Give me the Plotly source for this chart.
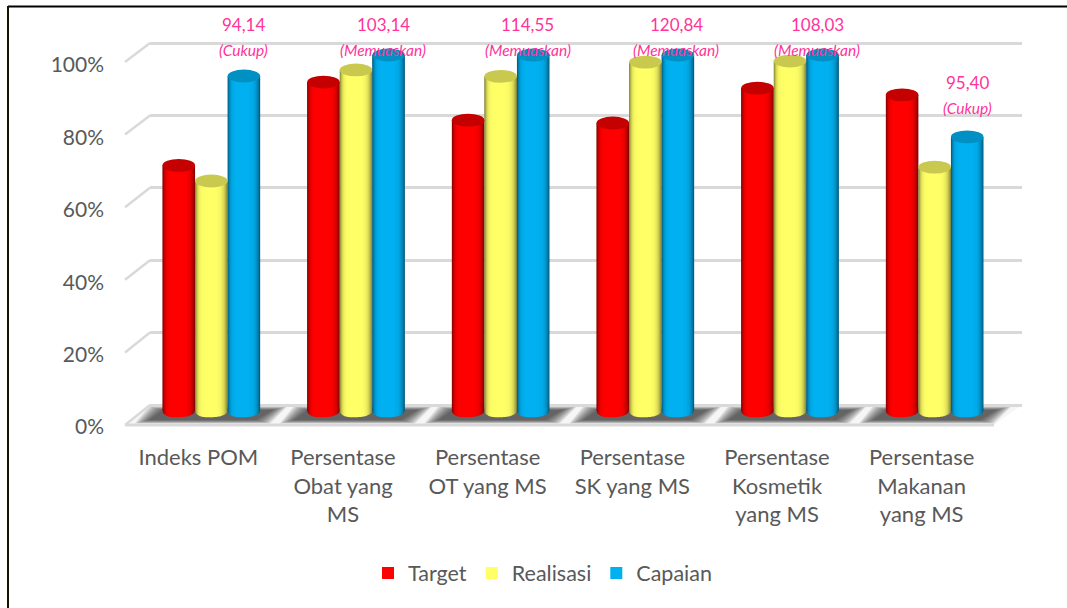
import plotly.graph_objects as go

categories = ["Indeks POM", "Persentase<br>Obat yang<br>MS", "Persentase<br>OT yang MS", "Persentase<br>SK yang MS",
              "Persentase<br>Kosmetik<br>yang MS", "Persentase<br>Makanan<br>yang MS"]
target = [69, 92.4, 81.7, 80.9, 90.7, 88.8]
realisasi = [64.6, 95.8, 94, 98, 98.3, 68.5]
capaian = [94.1, 100, 100, 100, 100, 77]
score_values = ["94,14", "103,14", "114,55", "120,84", "108,03", "95,40"]
score_labels = ["(Cukup)", "(Memuaskan)", "(Memuaskan)", "(Memuaskan)", "(Memuaskan)", "(Cukup)"]
y_ticks = [0, 20, 40, 60, 80, 100]
y_ticktext = ["0%", "20%", "40%", "60%", "80%", "100%"]

series_names = ["Target", "Realisasi", "Capaian"]
series_values = [target, realisasi, capaian]
series_rgb = [(255, 0, 0), (255, 255, 102), (0, 176, 240)]
top_colors = ["#c40000", "#c9c94f", "#0090c4"]

W, H = 1067, 608
FONT = "Lato"
TEXT = "#595959"
PINK = "#ff3399"
GRID = "#d9d9d9"


def px(x):
    return x / W


def py(y):
    return 1 - y / H


def path(points):
    return "M" + "L".join(f"{px(a):.5f},{py(b):.5f}" for a, b in points) + "Z"


fig = go.Figure()

levels = [1, .97, .94, .9, .85, .8, .74, .68, .6, .5, .35, .15]
bar_w = 0.225
ell = 1.8
for s in range(3):
    for t in levels:
        shade = 1 - 0.5 * t ** 5
        r, g, b = [round(c * shade) for c in series_rgb[s]]
        drop = ell * (1 - t * t) ** 0.5
        left = t + (1 - t) * 0.3
        fig.add_trace(go.Bar(
            x=list(range(6)),
            y=[v + drop for v in series_values[s]],
            base=[-drop] * 6,
            width=[bar_w * (left + t) / 2] * 6,
            offset=[(-1 + s + (-left) / 2) * bar_w] * 6,
            marker=dict(color=f"rgb({r},{g},{b})", line=dict(width=0)),
            name=series_names[s],
            legendgroup=series_names[s],
            showlegend=False,
            xaxis="x3", yaxis="y3", hoverinfo="skip", cliponaxis=False,
        ))
    fig.add_trace(go.Bar(
        x=[None], y=[None], name=series_names[s], legendgroup=series_names[s],
        marker=dict(color="rgb(%d,%d,%d)" % series_rgb[s]), xaxis="x3", yaxis="y3",
    ))

# invisible traces so that the label axes and the back-wall grid exist
fig.add_trace(go.Scatter(x=[0, 5], y=y_ticks[:1] * 2, mode="none", showlegend=False, xaxis="x", yaxis="y", hoverinfo="skip"))
fig.add_trace(go.Scatter(x=[0, 1], y=y_ticks[:1] * 2, mode="none", showlegend=False, xaxis="x2", yaxis="y2", hoverinfo="skip"))

shapes = []
# cylinder tops
for s in range(3):
    for i, v in enumerate(series_values[s]):
        c = i + (-1.5 + s) * bar_w
        shapes.append(dict(type="circle", xref="x3", yref="y3", x0=c, x1=c + bar_w, y0=v - ell, y1=v + ell,
                           fillcolor=top_colors[s], line=dict(width=0), layer="above"))

# floor
shapes.append(dict(type="path", xref="paper", yref="paper", layer="below",
                   path=path([(125, 425), (150, 405), (1022, 405), (994, 425)]),
                   fillcolor="#f6f6f6", line=dict(width=0)))
# blurred floor shadows
for i in range(6):
    cx = 211 + 144.8 * i
    for grow in [14, 12, 10, 8, 6, 4, 2, 0]:
        shapes.append(dict(type="path", xref="paper", yref="paper", layer="below",
                           path=path([(cx - 62 - grow, 420 + grow * .25), (cx - 48 - grow, 410 - grow * .25),
                                      (cx + 62 + grow, 410 - grow * .25), (cx + 45 + grow, 420 + grow * .25)]),
                           fillcolor="rgba(40,40,40,0.14)", line=dict(width=0)))
# floor edges and the diagonal grid
shapes.append(dict(type="line", xref="paper", yref="paper", layer="below", x0=px(125), y0=py(425), x1=px(994), y1=py(425),
                   line=dict(color=GRID, width=3)))
for v in y_ticks:
    y0 = 425 - 3.63 * v
    y1 = 405 - 3.62 * v
    shapes.append(dict(type="line", xref="paper", yref="paper", layer="below", x0=px(125), y0=py(y0), x1=px(150), y1=py(y1),
                       line=dict(color=GRID, width=2.5)))
# frame
shapes.append(dict(type="line", xref="paper", yref="paper", x0=px(8), y0=py(6.5), x1=1, y1=py(6.5), line=dict(color="#000000", width=2)))
shapes.append(dict(type="line", xref="paper", yref="paper", x0=px(8), y0=py(6), x1=px(8), y1=0, line=dict(color="#141400", width=2)))

# annotation anchors, on the bars' own axes
score_x = [0.22, 0.187, 0.187, 0.214, 0.187, 0.228]
score_y = [108.7, 108.7, 108.7, 108.7, 108.7, 92.4]
score_gap = 7.3
annotations = []
for i in range(6):
    annotations.append(dict(xref="x3", yref="y3", x=i + score_x[i], y=score_y[i], text=score_values[i],
                            showarrow=False, font=dict(family=FONT, size=17, color=PINK)))
    annotations.append(dict(xref="x3", yref="y3", x=i + score_x[i], y=score_y[i] - score_gap, text=f"<i>{score_labels[i]}</i>",
                            showarrow=False, font=dict(family=FONT, size=15.5, color=PINK)))

fig.update_layout(
    template="none",
    width=W, height=H, margin=dict(l=0, r=0, t=0, b=0), autosize=False,
    paper_bgcolor="#ffffff", plot_bgcolor="rgba(0,0,0,0)",
    barmode="overlay", shapes=shapes, annotations=annotations,
    font=dict(family=FONT, color=TEXT),
    showlegend=True,
    legend=dict(orientation="h", xanchor="left", yanchor="middle", x=px(368), y=py(573),
                font=dict(family=FONT, size=21.5, color=TEXT), traceorder="normal", bgcolor="rgba(0,0,0,0)"),
    xaxis=dict(domain=[px(126), px(994)], range=[-.5, 5.5], tickmode="array", tickvals=list(range(6)), ticktext=categories,
               tickfont=dict(family=FONT, size=22, color=TEXT), showgrid=False, zeroline=False, showline=False,
               ticks="", ticklabelstandoff=15, anchor="y", automargin=False),
    yaxis=dict(domain=[py(427), py(65)], range=[0, 100], tickmode="array", tickvals=y_ticks, ticktext=y_ticktext,
               tickfont=dict(family=FONT, size=21, color=TEXT), showgrid=False, zeroline=False, showline=False,
               ticks="", ticklabelstandoff=21, anchor="x", automargin=False),
    xaxis2=dict(domain=[px(150), px(1022)], range=[0, 1], visible=False, anchor="y2", automargin=False),
    yaxis2=dict(domain=[py(423.1), py(24.9)], range=[-5, 105], tickmode="array", tickvals=y_ticks, showticklabels=False,
                showgrid=True, gridcolor=GRID, gridwidth=2.5, zeroline=False, showline=False, ticks="", anchor="x2", automargin=False),
    xaxis3=dict(domain=[px(139), px(1007)], range=[-.5, 5.5], visible=False, anchor="y3", automargin=False),
    yaxis3=dict(domain=[py(428.8), 1], range=[-5, 115.45], visible=False, anchor="x3", automargin=False),
)

fig.write_html("out.html", config={"displayModeBar": False}, post_script="document.body.style.margin='0';")
